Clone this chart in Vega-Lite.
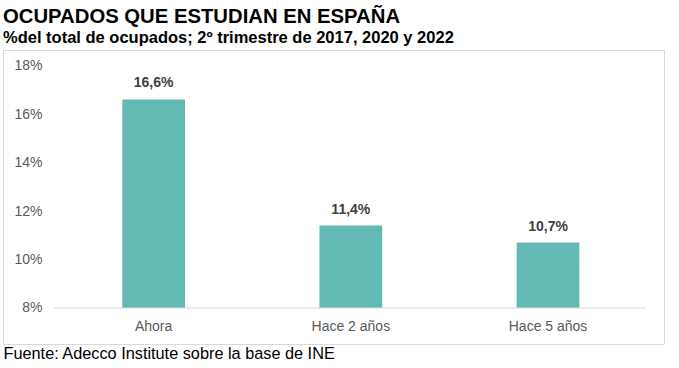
{
  "$schema": "https://vega.github.io/schema/vega-lite/v6.json",
  "width": 661,
  "height": 294,
  "autosize": "none",
  "padding": {"left": 3, "top": 50, "right": 15, "bottom": 24},
  "config": {
    "locale": {"number": {"decimal": ",", "thousands": ".", "grouping": [3], "currency": ["", " €"]}},
    "view": {"stroke": "#d9d9d9", "strokeWidth": 1},
    "font": "Liberation Sans"
  },
  "title": {
    "text": "OCUPADOS QUE ESTUDIAN EN ESPAÑA",
    "subtitle": "%del total de ocupados; 2º trimestre de 2017, 2020 y 2022",
    "anchor": "start",
    "frame": "group",
    "fontSize": 20.3,
    "fontWeight": "bold",
    "color": "#000000",
    "subtitleFontSize": 16.5,
    "subtitleFontWeight": "bold",
    "subtitleColor": "#000000",
    "subtitlePadding": 2,
    "offset": 4
  },
  "data": {
    "values": [
      {"periodo": "Ahora", "ocupados": 0.166},
      {"periodo": "Hace 2 años", "ocupados": 0.114},
      {"periodo": "Hace 5 años", "ocupados": 0.107}
    ]
  },
  "encoding": {
    "x": {
      "field": "periodo",
      "type": "nominal",
      "sort": null,
      "title": "Fuente: Adecco Institute sobre la base de INE",
      "scale": {"domain": ["Ahora", "Hace 2 años", "Hace 5 años"], "paddingInner": 0.682, "paddingOuter": 0.517, "align": 0.585},
      "axis": {
        "orient": "bottom",
        "offset": -36,
        "domain": false,
        "ticks": false,
        "tickSize": 0,
        "labelPadding": 11,
        "labelAngle": 0,
        "labelFontSize": 14,
        "labelColor": "#595959",
        "titleAnchor": "start",
        "titleAlign": "left",
        "titleFontSize": 16.3,
        "titleFontWeight": "normal",
        "titleColor": "#000000",
        "titlePadding": 12
      }
    },
    "y": {
      "field": "ocupados",
      "type": "quantitative",
      "title": null,
      "scale": {"domain": [0.06515, 0.1864], "nice": false, "zero": false},
      "axis": {
        "values": [0.08, 0.10, 0.12, 0.14, 0.16, 0.18],
        "format": ".0%",
        "grid": false,
        "domain": false,
        "ticks": false,
        "tickSize": 0,
        "labelPadding": 0,
        "offset": -39,
        "labelFontSize": 14,
        "labelColor": "#595959"
      }
    }
  },
  "layer": [
    {
      "mark": {"type": "bar", "color": "#63b9b3"},
      "encoding": {
        "y2": {"datum": 0.08}
      }
    },
    {
      "data": {"values": [{"base": 0.08}]},
      "mark": {"type": "rule", "color": "#d9d9d9", "strokeWidth": 1},
      "encoding": {
        "x": {"datum": "Ahora", "bandPosition": -1.1},
        "x2": {"datum": "Hace 5 años", "bandPosition": 2.057},
        "y": {"field": "base", "type": "quantitative"}
      }
    },
    {
      "mark": {"type": "text", "baseline": "bottom", "dy": -9, "fontSize": 14, "fontWeight": "bold", "color": "#404040"},
      "encoding": {
        "text": {"field": "ocupados", "type": "quantitative", "format": ".1%"}
      }
    }
  ]
}
